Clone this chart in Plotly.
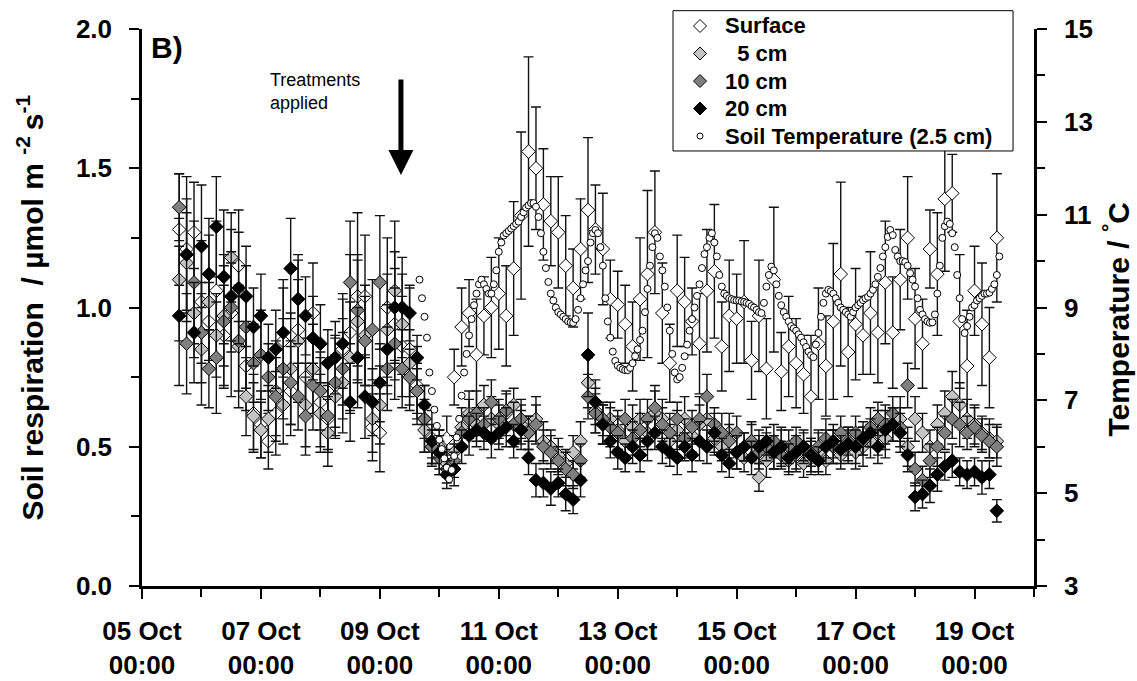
import pandas as pd
import plotly.graph_objects as go

# ---- Chamber CO2 efflux, 3-hourly means (umol m-2 s-1) ----
# sampling: every 3 h from 05 Oct 15:00 to 19 Oct 09:00
flux_start = "2008-10-05 15:00"
flux_step = "3h"

surface = [
    1.28, 1.21, 1.27,                                   # 05 Oct
    1.02, 0.95, 1.06, 0.90, 0.98, 1.15, 0.79, 0.62,     # 06 Oct
    0.58, 0.52, 0.62, 0.88, 0.70, 0.92, 0.75, 0.98,     # 07 Oct
    0.66, 0.60, 0.72, 0.85, 0.91, 1.04, 1.04, 0.57,     # 08 Oct
    0.55, 1.00, 0.94, 0.86, 0.85, 0.72, 0.60, 0.53,     # 09 Oct
    0.48, 0.53, 0.75, 0.93, 0.98, 0.83, 0.97, 1.00,     # 10 Oct
    1.05, 0.97, 1.14, 1.33, 1.56, 1.50, 1.37, 1.31,     # 11 Oct
    1.27, 1.15, 1.07, 1.21, 1.35, 1.28, 1.21, 1.03,     # 12 Oct
    1.01, 0.94, 0.86, 1.03, 1.12, 1.27, 0.98, 0.80,     # 13 Oct
    1.06, 1.02, 0.95, 0.87, 1.06, 1.13, 0.86, 0.97,     # 14 Oct
    0.96, 1.02, 0.81, 0.97, 0.78, 1.10, 0.77, 0.86,     # 15 Oct
    0.80, 0.76, 0.68, 0.87, 0.79, 0.95, 1.12, 0.84,     # 16 Oct
    0.94, 0.90, 0.98, 0.91, 1.09, 0.91, 1.10, 1.25,     # 17 Oct
    0.96, 0.87, 1.21, 1.12, 1.39, 1.41, 0.95, 0.79,     # 18 Oct
    1.06, 0.94, 0.82, 1.25,                             # 19 Oct
]
depth_5cm = [
    1.10, 1.16, 0.98,
    0.85, 1.02, 0.90, 0.97, 1.18, 0.86, 0.68, 0.61,
    0.56, 0.60, 0.70, 0.65, 0.78, 0.88, 0.65, 0.78,
    0.62, 0.55, 0.68, 0.73, 0.82, 0.95, 0.90, 0.60,
    0.65, 0.92, 1.06, 0.94, 0.80, 0.70, 0.56, 0.50,
    0.50, 0.44, 0.48, 0.57, 0.62, 0.58, 0.65, 0.60,
    0.58, 0.62, 0.65, 0.58, 0.55, 0.60, 0.52, 0.50,
    0.47, 0.44, 0.48, 0.52, 0.73, 0.63, 0.58, 0.60,
    0.56, 0.52, 0.57, 0.60, 0.55, 0.62, 0.60, 0.52,
    0.56, 0.60, 0.54, 0.58, 0.60, 0.53, 0.50, 0.55,
    0.48, 0.46, 0.52, 0.39, 0.45, 0.48, 0.50, 0.45,
    0.47, 0.44, 0.46, 0.48, 0.45, 0.50, 0.47, 0.50,
    0.48, 0.50, 0.52, 0.55, 0.53, 0.58, 0.60, 0.50,
    0.60, 0.55, 0.50, 0.58, 0.62, 0.68, 0.65, 0.60,
    0.58, 0.55, 0.53, 0.52,
]
depth_10cm = [
    1.36, 0.87, 1.09,
    0.91, 0.78, 0.82, 0.95, 1.00, 0.88, 0.93, 0.80,
    0.83, 0.75, 0.68, 0.78, 0.73, 0.68, 0.61, 0.72,
    0.70, 0.61, 0.73, 0.78, 1.09, 0.99, 0.88, 0.92,
    1.09, 0.78, 0.87, 0.78, 0.75, 0.70, 0.60, 0.50,
    0.46, 0.42, 0.45, 0.55, 0.60, 0.62, 0.58, 0.66,
    0.60, 0.63, 0.58, 0.60, 0.55, 0.58, 0.50, 0.48,
    0.45, 0.42, 0.40, 0.45, 0.68, 0.62, 0.60, 0.57,
    0.55, 0.60, 0.53, 0.56, 0.60, 0.64, 0.58, 0.55,
    0.60, 0.53, 0.57, 0.60, 0.68, 0.58, 0.55, 0.52,
    0.55, 0.50, 0.52, 0.48, 0.50, 0.52, 0.47, 0.50,
    0.52, 0.50, 0.48, 0.50, 0.53, 0.50, 0.55, 0.52,
    0.55, 0.52, 0.57, 0.60, 0.58, 0.62, 0.57, 0.72,
    0.42, 0.38, 0.45, 0.50, 0.55, 0.60, 0.58, 0.55,
    0.57, 0.54, 0.52, 0.50,
]
depth_20cm = [
    0.97, 1.19, 0.91,
    1.22, 1.12, 1.29, 1.11, 1.04, 1.07, 1.04, 0.93,
    0.97, 0.82, 0.85, 0.91, 1.14, 1.03, 0.97, 0.89,
    0.87, 0.80, 0.82, 0.87, 0.66, 0.82, 0.68, 0.66,
    0.73, 0.85, 1.00, 1.00, 0.98, 0.82, 0.65, 0.52,
    0.48, 0.40, 0.42, 0.50, 0.54, 0.56, 0.55, 0.53,
    0.55, 0.57, 0.52, 0.56, 0.46, 0.38, 0.37, 0.35,
    0.37, 0.33, 0.31, 0.38, 0.83, 0.66, 0.58, 0.52,
    0.48, 0.46, 0.50, 0.47, 0.52, 0.55, 0.50, 0.48,
    0.46, 0.50, 0.47, 0.52, 0.50, 0.55, 0.47, 0.44,
    0.48, 0.50, 0.46, 0.50, 0.52, 0.48, 0.50, 0.46,
    0.48, 0.50, 0.47, 0.45, 0.50, 0.52, 0.49, 0.51,
    0.50, 0.53, 0.55, 0.50, 0.56, 0.58, 0.55, 0.47,
    0.32, 0.33, 0.36, 0.40, 0.43, 0.45, 0.41, 0.40,
    0.41, 0.39, 0.40, 0.27,
]

# standard errors, in hundredths of umol m-2 s-1
surface_se = [
    20, 26, 18,
    22, 14, 25, 18, 30, 20, 16, 14,
    12, 10, 15, 22, 16, 25, 14, 18,
    16, 12, 18, 20, 28, 30, 22, 12,
    14, 25, 20, 18, 22, 14, 12, 10,
    8, 8, 10, 14, 12, 20, 14, 18,
    20, 18, 24, 30, 34, 22, 20, 16,
    20, 18, 14, 18, 26, 16, 20, 14,
    12, 14, 16, 22, 30, 22, 18, 14,
    20, 16, 12, 18, 22, 24, 16, 20,
    16, 22, 14, 20, 18, 26, 14, 18,
    16, 14, 22, 20, 18, 28, 33, 16,
    20, 14, 22, 18, 22, 20, 18, 22,
    18, 16, 14, 22, 26, 14, 24, 20,
    16, 22, 18, 23,
]
depth_5cm_se = [
    22, 18, 16,
    20, 24, 15, 18, 16, 22, 14, 12,
    10, 12, 18, 14, 20, 22, 15, 16,
    14, 12, 15, 18, 20, 22, 18, 12,
    14, 20, 25, 18, 12, 10, 8, 6,
    6, 5, 6, 7, 8, 6, 7, 8,
    7, 8, 6, 7, 6, 8, 7, 6,
    6, 5, 6, 7, 9, 8, 7, 6,
    7, 6, 8, 7, 6, 8, 7, 6,
    7, 8, 6, 7, 8, 6, 5, 7,
    6, 5, 7, 5, 6, 6, 7, 5,
    6, 5, 6, 7, 5, 6, 5, 6,
    6, 7, 6, 8, 7, 6, 8, 7,
    8, 7, 6, 7, 8, 9, 8, 7,
    7, 6, 7, 6,
]
depth_10cm_se = [
    12, 18, 22,
    18, 14, 20, 24, 16, 18, 22, 14,
    16, 12, 14, 18, 15, 12, 14, 16,
    14, 12, 16, 18, 22, 20, 16, 18,
    24, 15, 20, 14, 10, 8, 7, 6,
    6, 5, 6, 6, 7, 8, 6, 8,
    7, 6, 8, 7, 6, 7, 6, 6,
    5, 6, 5, 6, 8, 7, 6, 7,
    6, 7, 6, 6, 7, 8, 6, 7,
    6, 7, 6, 8, 8, 6, 7, 6,
    6, 5, 6, 6, 5, 6, 5, 6,
    5, 6, 5, 6, 7, 6, 6, 5,
    6, 5, 7, 6, 7, 6, 7, 8,
    6, 5, 6, 7, 6, 7, 8, 6,
    7, 6, 6, 7,
]
depth_20cm_se = [
    25, 20, 18,
    22, 20, 18, 24, 16, 20, 18, 14,
    15, 12, 14, 16, 18, 16, 14, 15,
    14, 12, 13, 16, 14, 18, 15, 12,
    14, 16, 20, 18, 10, 8, 7, 6,
    6, 5, 6, 6, 7, 6, 6, 7,
    6, 7, 6, 7, 6, 6, 5, 6,
    5, 6, 5, 6, 15, 8, 7, 6,
    6, 5, 6, 6, 7, 6, 6, 5,
    6, 5, 6, 7, 6, 7, 6, 5,
    6, 5, 6, 6, 5, 6, 6, 5,
    6, 5, 6, 5, 6, 6, 5, 6,
    6, 6, 5, 6, 7, 6, 7, 6,
    5, 5, 6, 6, 5, 6, 5, 5,
    5, 6, 5, 4,
]

# ---- Soil temperature at 2.5 cm, hourly (deg C), from 09 Oct 16:00 ----
temp_start = "2008-10-09 16:00"
soil_temp = [
    9.6, 9.2, 8.8, 8.35, 7.6, 7.2, 6.8, 6.45,                                    # 09 Oct 16-23
    6.15, 5.95, 5.75, 5.55, 5.3, 5.5, 5.8, 6.2, 6.6, 7.1, 7.6, 8.0,
    8.4, 8.75, 9.05, 9.3, 9.5, 9.6, 9.5, 9.4, 9.3, 9.3, 9.5, 9.8,                # 10 Oct
    10.2, 10.4, 10.55, 10.6, 10.65, 10.7, 10.75, 10.8, 10.85, 10.95, 11.05, 11.15,
    11.2, 11.25, 11.25, 11.17, 10.95, 10.6, 10.2, 9.85, 9.55, 9.3, 9.15, 9.0,    # 11 Oct
    8.9, 8.85, 8.8, 8.75, 8.7, 8.68, 8.67, 8.75, 8.95, 9.2, 9.5, 9.8,
    10.0, 10.4, 10.6, 10.67, 10.6, 10.3, 9.9, 9.2, 8.7, 8.35, 8.05, 7.85,        # 12 Oct
    7.75, 7.7, 7.67, 7.65, 7.65, 7.7, 7.8, 7.95, 8.1, 8.3, 8.5, 8.9,
    9.4, 9.9, 10.3, 10.6, 10.5, 10.1, 9.8, 9.45, 9.0, 8.5, 8.0, 7.6,             # 13 Oct
    7.45, 7.5, 7.7, 7.95, 8.2, 8.5, 8.75, 9.0, 9.25, 9.5, 9.85, 10.15,
    10.3, 10.5, 10.6, 10.4, 10.1, 9.7, 9.45, 9.3, 9.25, 9.2, 9.18, 9.16,        # 14 Oct
    9.15, 9.15, 9.13, 9.12, 9.1, 9.08, 9.03, 9.0, 8.95, 8.9, 8.88, 9.1,
    9.45, 9.7, 9.88, 9.8, 9.5, 9.25, 9.05, 8.9, 8.8, 8.7, 8.6, 8.55,            # 15 Oct
    8.5, 8.42, 8.35, 8.25, 8.15, 8.05, 7.97, 7.93, 8.2, 8.45, 8.8, 9.1,
    9.3, 9.38, 9.35, 9.3, 9.2, 9.1, 9.0, 8.95, 8.9, 8.85, 8.8, 8.9,             # 16 Oct
    9.0, 9.05, 9.1, 9.16, 9.2, 9.23, 9.3, 9.38, 9.5, 9.66, 9.85, 10.1,
    10.3, 10.52, 10.67, 10.56, 10.24, 10.1, 10.0, 10.0, 9.98, 9.9, 9.74, 9.6,   # 17 Oct
    9.45, 9.2, 8.95, 8.85, 8.75, 8.7, 8.67, 8.68, 8.85, 9.3, 9.9, 10.5,
    10.75, 10.85, 10.8, 10.6, 10.3, 9.7, 9.2, 8.75, 8.45, 8.6, 8.8, 9.0,        # 18 Oct
    9.05, 9.15, 9.2, 9.25, 9.3, 9.3, 9.32, 9.4, 9.5, 9.7, 10.1,                 # 19 Oct 00-10
]

tick_days = ["2008-10-05", "2008-10-07", "2008-10-09", "2008-10-11",
             "2008-10-13", "2008-10-15", "2008-10-17", "2008-10-19"]
tick_text = ["05 Oct<br>00:00", "07 Oct<br>00:00", "09 Oct<br>00:00", "11 Oct<br>00:00",
             "13 Oct<br>00:00", "15 Oct<br>00:00", "17 Oct<br>00:00", "19 Oct<br>00:00"]

flux_times = pd.date_range(flux_start, periods=len(surface), freq=flux_step)
temp_times = pd.date_range(temp_start, periods=len(soil_temp), freq="h")

FONT = "Liberation Sans, Arial, Helvetica, sans-serif"

fig = go.Figure()

series = [
    ("Surface", surface, surface_se, "white"),
    ("\u00a0\u00a05 cm", depth_5cm, depth_5cm_se, "#c4c4c4"),
    ("10 cm", depth_10cm, depth_10cm_se, "#7f7f7f"),
    ("20 cm", depth_20cm, depth_20cm_se, "black"),
]
for name, vals, se, fill in series:
    fig.add_trace(go.Scatter(
        x=flux_times, y=vals, name=name, mode="markers", showlegend=False,
        marker=dict(symbol="diamond", size=10.5, color=fill,
                    line=dict(color="black", width=1)),
        error_y=dict(type="data", array=[e / 100 for e in se], symmetric=True,
                     color="#111111", thickness=1.4, width=5),
    ))

temp_name = "Soil Temperature (2.5 cm)"
fig.add_trace(go.Scatter(
    x=temp_times, y=soil_temp, name=temp_name, mode="markers",
    yaxis="y2", showlegend=False,
    marker=dict(symbol="circle", size=7, color="white",
                line=dict(color="black", width=1)),
))

axis_common = dict(showline=True, linecolor="black", linewidth=2.5,
                   ticks="outside", ticklen=10, tickwidth=2, tickcolor="black",
                   showgrid=False, zeroline=False, automargin=False,
                   tickfont=dict(family=FONT, size=26, color="black", weight="bold"))

fig.update_layout(
    width=1137, height=681,
    margin=dict(l=142, r=103, t=29, b=95, autoexpand=False),
    plot_bgcolor="white", paper_bgcolor="white",
    font=dict(family=FONT, color="black"),
    showlegend=False,
    xaxis=dict(
        type="date", range=["2008-10-05", "2008-10-20"],
        tickmode="array", tickvals=tick_days, ticktext=tick_text,
        ticklabelstandoff=10,
        minor=dict(dtick=86400000, tick0="2008-10-05", ticks="outside",
                   ticklen=8, tickwidth=2, tickcolor="black"),
        **axis_common,
    ),
    yaxis=dict(
        range=[0, 2], tickmode="array", tickvals=[0, 0.5, 1.0, 1.5, 2.0],
        tickformat=".1f", ticklabelstandoff=12,
        minor=dict(dtick=0.25, tick0=0, ticks="outside",
                   ticklen=8, tickwidth=2, tickcolor="black"),
        **axis_common,
    ),
    yaxis2=dict(
        range=[3, 15], overlaying="y", side="right", anchor="x",
        tickmode="array", tickvals=[3, 5, 7, 9, 11, 13, 15], ticklabelstandoff=12,
        minor=dict(dtick=1, tick0=3, ticks="outside",
                   ticklen=8, tickwidth=2, tickcolor="black"),
        **axis_common,
    ),
)

# ---- legend box (drawn as shapes + text so the row spacing stays compact) ----
legend_rows = [
    ("Surface", "diamond", "white"),
    ("\u00a0\u00a05 cm", "diamond", "#c4c4c4"),
    ("10 cm", "diamond", "#7f7f7f"),
    ("20 cm", "diamond", "black"),
    (temp_name, "circle", "white"),
]
box_x0, box_x1, box_y0, box_y1 = 0.5953, 0.9765, 0.7810, 1.0329
sym_x, text_x, row_top, row_step = 0.6256, 0.6513, 1.0054, 0.0494

fig.add_shape(type="rect", xref="paper", yref="paper",
              x0=box_x0, x1=box_x1, y0=box_y0, y1=box_y1,
              line=dict(color="black", width=1), fillcolor="white", layer="above")
for i, (label, sym, fill) in enumerate(legend_rows):
    yc = row_top - i * row_step
    if sym == "diamond":
        fig.add_shape(type="path", xref="paper", yref="paper",
                      xsizemode="pixel", ysizemode="pixel", xanchor=sym_x, yanchor=yc,
                      path="M-6.5,0 L0,6.5 L6.5,0 L0,-6.5 Z",
                      line=dict(color="black", width=1), fillcolor=fill, layer="above")
    else:
        fig.add_shape(type="circle", xref="paper", yref="paper",
                      xsizemode="pixel", ysizemode="pixel", xanchor=sym_x, yanchor=yc,
                      x0=-3, x1=3, y0=-3, y1=3,
                      line=dict(color="black", width=1), fillcolor=fill, layer="above")
    fig.add_annotation(xref="paper", yref="paper", x=text_x, y=yc,
                       xanchor="left", yanchor="middle", text=label, showarrow=False,
                       font=dict(family=FONT, size=22, color="black", weight="bold"))

# ---- axis titles and labels ----
fig.add_annotation(
    xref="paper", yref="paper", x=-0.1256, y=0.5, xanchor="center", yanchor="middle",
    text="Soil respiration  / µmol m <sup>-2 </sup>s<sup>-1</sup>", textangle=-90,
    showarrow=False, font=dict(family=FONT, size=30, color="black", weight="bold"),
)
fig.add_annotation(
    xref="paper", yref="paper", x=1.0919, y=0.48, xanchor="center", yanchor="middle",
    text="Temperature / <sup>°</sup>C", textangle=-90,
    showarrow=False, font=dict(family=FONT, size=30, color="black", weight="bold"),
)
fig.add_annotation(
    xref="paper", yref="paper", x=0.008, y=1.0, xanchor="left", yanchor="top",
    text="B)", showarrow=False,
    font=dict(family=FONT, size=30, color="black", weight="bold"),
)
fig.add_annotation(
    xref="paper", yref="paper", x=0.141, y=0.93, xanchor="left", yanchor="top",
    text="Treatments<br>applied", align="left", showarrow=False,
    font=dict(family=FONT, size=18, color="black"),
)
fig.add_annotation(
    x="2008-10-09 08:30", y=1.476, xref="x", yref="y",
    ax=0, ay=-97, showarrow=True, arrowhead=2, arrowsize=1,
    arrowwidth=5, arrowcolor="black", standoff=0, text="",
)

fig.write_html("out.html")
